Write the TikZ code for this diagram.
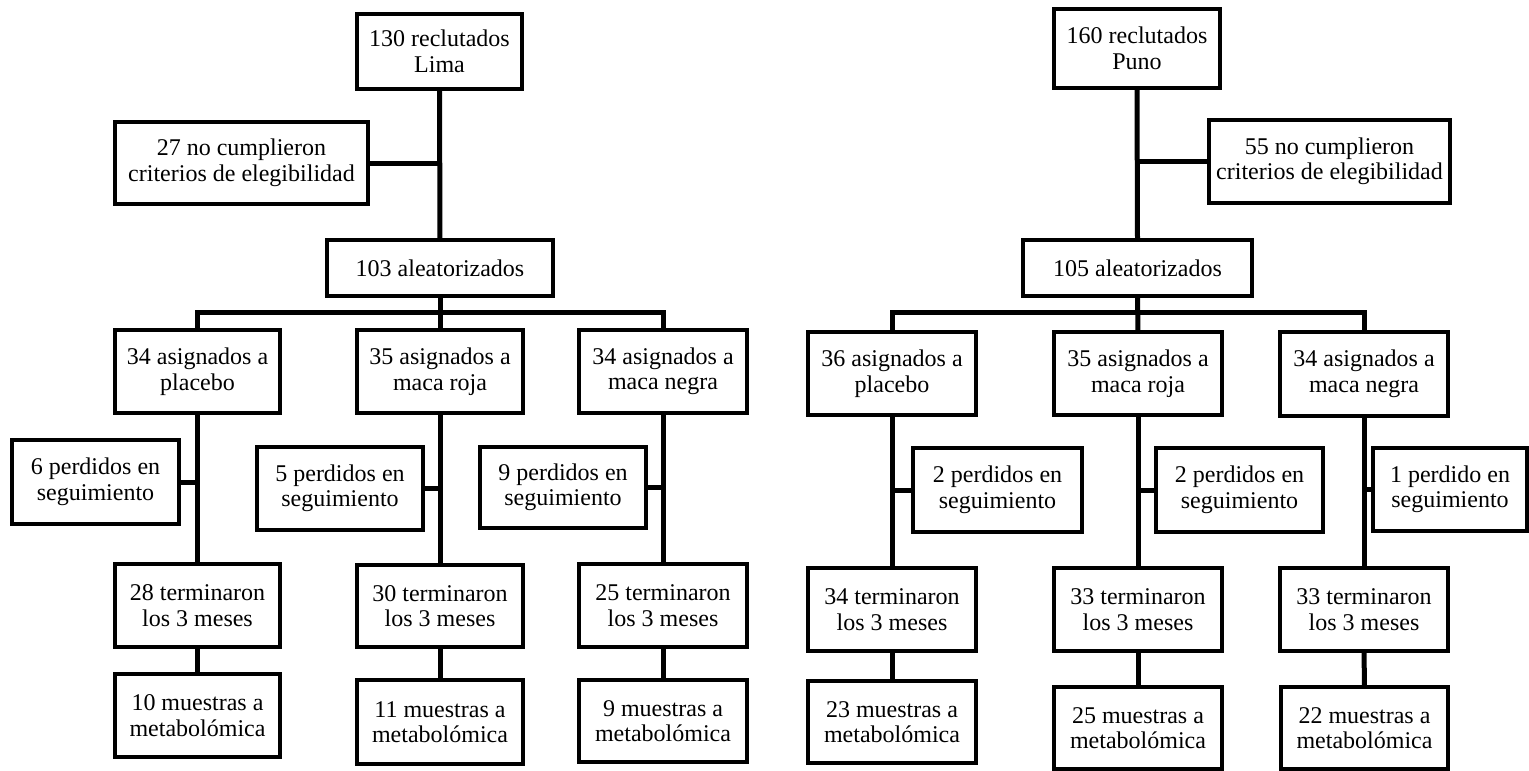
\documentclass[tikz,border=0pt]{standalone}
\usepackage{fontspec}
\setmainfont{Liberation Serif}
\newfontfamily\tnr{Liberation Serif}
\usetikzlibrary{backgrounds}
\tikzset{
  box/.style={draw=black, line width=3.5pt, fill=white, align=center, inner sep=0pt, outer sep=0pt,
    font=\tnr\fontsize{24}{25.5}\selectfont},
  conn/.style={draw=black, line width=5pt}
}
\newcommand\bx[6]{\node[box, minimum width={#4-#2}, minimum height={#5-#3}] (#1) at ({(#2+#4)/2},{(#3+#5)/2}) {#6};}
\begin{document}
\begin{tikzpicture}[x=1pt,y=-1pt]
\useasboundingbox (0,0) rectangle (1529,771);
% ---------- Lima ----------
\bx{lima}{357}{14}{522}{89}{130 reclutados\\Lima}
\bx{no1}{115}{122}{368}{204}{27 no cumplieron\\criterios de elegibilidad}
\bx{ale}{327}{240}{553}{296}{103 aleatorizados}
\bx{pla}{115}{330}{280}{413}{34 asignados a\\placebo}
\bx{roj}{357}{330}{523}{413}{35 asignados a\\maca roja}
\bx{neg}{579}{330}{747}{413}{34 asignados a\\maca negra}
\bx{pa}{12}{440}{179}{524}{6 perdidos en\\seguimiento}
\bx{pb}{257}{447}{423}{530}{5 perdidos en\\seguimiento}
\bx{pc}{480}{447}{646}{528}{9 perdidos en\\seguimiento}
\bx{ta}{115}{564}{280}{647}{28 terminaron\\los 3 meses}
\bx{tb}{357}{565}{523}{647}{30 terminaron\\los 3 meses}
\bx{tc}{579}{564}{747}{647}{25 terminaron\\los 3 meses}
\bx{ma}{115}{674}{280}{757}{10 muestras a\\metabolómica}
\bx{mb}{357}{680}{523}{764}{11 muestras a\\metabolómica}
\bx{mc}{579}{680}{747}{762}{9 muestras a\\metabolómica}
\coordinate (barL) at (0,312);
% ---------- Puno ----------
\bx{puno}{1054}{9}{1220}{88}{160 reclutados\\Puno}
\bx{no2}{1209}{120}{1450}{203}{55 no cumplieron\\criterios de elegibilidad}
\bx{ale2}{1023}{240}{1252}{296}{105 aleatorizados}
\bx{pla2}{808}{332}{976}{415}{36 asignados a\\placebo}
\bx{roj2}{1054}{332}{1222}{415}{35 asignados a\\maca roja}
\bx{neg2}{1280}{332}{1448}{416}{34 asignados a\\maca negra}
\bx{qa}{913}{448}{1082}{532}{2 perdidos en\\seguimiento}
\bx{qb}{1156}{448}{1323}{532}{2 perdidos en\\seguimiento}
\bx{qc}{1373}{448}{1527}{531}{1 perdido en\\seguimiento}
\bx{td}{808}{568}{976}{651}{34 terminaron\\los 3 meses}
\bx{te}{1054}{568}{1222}{651}{33 terminaron\\los 3 meses}
\bx{tf}{1280}{568}{1448}{651}{33 terminaron\\los 3 meses}
\bx{md}{808}{681}{976}{763}{23 muestras a\\metabolómica}
\bx{me}{1054}{687}{1222}{769}{25 muestras a\\metabolómica}
\bx{mf}{1281}{687}{1448}{769}{22 muestras a\\metabolómica}
\coordinate (barR) at (0,312);
\begin{scope}[on background layer]
\fill[white] (0,0) rectangle (1529,771);
% Lima connectors
\draw[conn] (lima.south) -- (ale.north);
\draw[conn] (no1.east) -- (no1.east -| lima.south);
\draw[conn] (ale.south) -- (roj.north);
\draw[conn] (pla.north) -- (pla.north |- barL) -- (neg.north |- barL) -- (neg.north);
\draw[conn] (pla.south) -- (ta.north);
\draw[conn] (roj.south) -- (tb.north);
\draw[conn] (neg.south) -- (tc.north);
\draw[conn] (pa.east) -- (pa.east -| pla.south);
\draw[conn] (pb.east) -- (pb.east -| roj.south);
\draw[conn] (pc.east) -- (pc.east -| neg.south);
\draw[conn] (ta.south) -- (ma.north);
\draw[conn] (tb.south) -- (mb.north);
\draw[conn] (tc.south) -- (mc.north);
% Puno connectors
\draw[conn] (puno.south) -- (ale2.north);
\draw[conn] (no2.west) -- (no2.west -| puno.south);
\draw[conn] (ale2.south) -- (roj2.north);
\draw[conn] (pla2.north) -- (pla2.north |- barR) -- (neg2.north |- barR) -- (neg2.north);
\draw[conn] (pla2.south) -- (td.north);
\draw[conn] (roj2.south) -- (te.north);
\draw[conn] (neg2.south) -- (tf.north);
\draw[conn] (qa.west) -- (qa.west -| pla2.south);
\draw[conn] (qb.west) -- (qb.west -| roj2.south);
\draw[conn] (qc.west) -- (qc.west -| neg2.south);
\draw[conn] (td.south) -- (md.north);
\draw[conn] (te.south) -- (me.north);
\draw[conn] (tf.south) -- (mf.north);
\end{scope}
\end{tikzpicture}
\end{document}
